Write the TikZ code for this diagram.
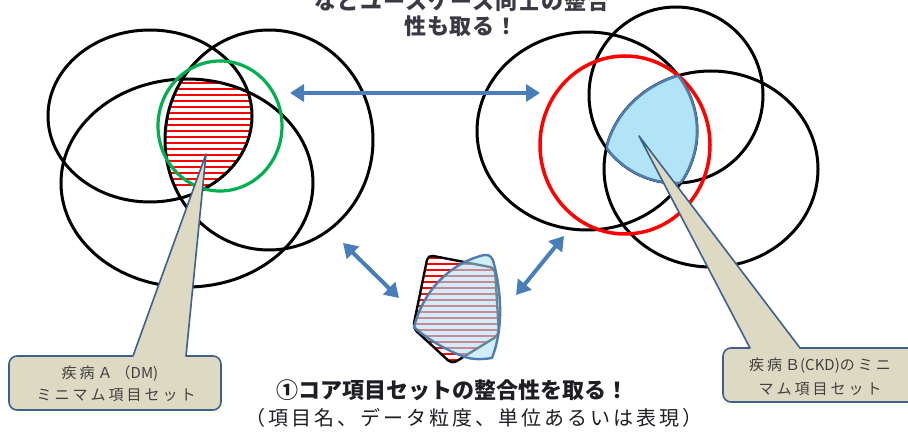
\documentclass[tikz,border=0pt]{standalone}
\usepackage{fontspec}
\newfontfamily\jp{Noto Sans CJK JP}
\newfontfamily\jpsp{Noto Sans CJK JP}[LetterSpace=20]
\newfontfamily\jpw{Noto Sans CJK JP}[LetterSpace=15]
\newfontfamily\jpt{Noto Sans CJK JP}[LetterSpace=4]
\usetikzlibrary{arrows.meta}
\definecolor{arrowblue}{HTML}{4A7EBB}
\definecolor{calloutfill}{HTML}{DDD9C3}
\definecolor{calloutborder}{HTML}{3F608D}
\definecolor{lightblue}{HTML}{B0E4F6}
\definecolor{regionblue}{HTML}{4F7DB0}
\definecolor{greencirc}{HTML}{00B050}
\definecolor{labelgray}{HTML}{404040}
\definecolor{topgray}{HTML}{3A3A44}
\definecolor{darktext}{HTML}{1E1E24}
\begin{document}
\begin{tikzpicture}[x=1pt,y=-1pt,
  ell/.style={draw=black, line width=3pt},
  hline/.style={draw=red, line width=1.1pt},
  callout/.style={fill=calloutfill, draw=calloutborder, line width=1.6pt, line join=round},
  lbl/.style={text=labelgray, font=\jpsp\fontsize{15}{18}\selectfont, inner sep=0pt},
  dbl/.style={draw=arrowblue, line width=4pt, {Triangle[length=14pt,width=17pt]}-{Triangle[length=14pt,width=17pt]}}]
\useasboundingbox (0,0) rectangle (908,435);

% ---------- left group ----------
\begin{scope}
  \clip (150,116) ellipse [x radius=102, y radius=86];
  \clip (269,140) ellipse [x radius=104, y radius=110];
  \clip (187,183) ellipse [x radius=126, y radius=104];
  \foreach \yy in {83,89,...,185} { \draw[hline] (150,\yy) -- (260,\yy); }
\end{scope}
\draw[ell] (150,116) ellipse [x radius=102, y radius=86];
\draw[ell] (269,140) ellipse [x radius=104, y radius=110];
\draw[ell] (187,183) ellipse [x radius=126, y radius=104];
\draw[draw=greencirc, line width=3.2pt] (220,126) ellipse [x radius=62, y radius=65];

% ---------- right group ----------
\draw[ell] (587,131) ellipse [x radius=110, y radius=99];
\draw[ell] (676,95) ellipse [x radius=87, y radius=88];
\draw[ell] (711,169) ellipse [x radius=107, y radius=98];
\draw[draw=red, line width=3.5pt] (625,145) ellipse [x radius=85, y radius=89];
\begin{scope}
  \clip (587,131) ellipse [x radius=110, y radius=99];
  \clip (676,95) ellipse [x radius=87, y radius=88];
  \fill[lightblue] (711,169) ellipse [x radius=107, y radius=98];
\end{scope}
\begin{scope}
  \clip (676,95) ellipse [x radius=87, y radius=88];
  \clip (711,169) ellipse [x radius=107, y radius=98];
  \draw[regionblue, line width=2.6pt] (587,131) ellipse [x radius=110, y radius=99];
\end{scope}
\begin{scope}
  \clip (587,131) ellipse [x radius=110, y radius=99];
  \clip (711,169) ellipse [x radius=107, y radius=98];
  \draw[regionblue, line width=2.6pt] (676,95) ellipse [x radius=87, y radius=88];
\end{scope}
\begin{scope}
  \clip (587,131) ellipse [x radius=110, y radius=99];
  \clip (676,95) ellipse [x radius=87, y radius=88];
  \draw[regionblue, line width=2.6pt] (711,169) ellipse [x radius=107, y radius=98];
\end{scope}

% ---------- middle core shape ----------
\fill[white] (428,255) -- (495,268) -- (499,335) -- (452,364) -- (413,328) -- cycle;
\begin{scope}
  \clip[rounded corners=5pt] (428,255) -- (495,268) -- (499,335) -- (452,364) -- (413,328) -- cycle;
  \foreach \yy in {258,264,...,362} { \draw[hline] (405,\yy) -- (505,\yy); }
\end{scope}
\draw[black, line width=2.4pt, rounded corners=5pt] (428,255) -- (495,268) -- (499,335) -- (452,364) -- (413,328) -- cycle;
\draw[draw=regionblue, line width=2.4pt, fill=lightblue, fill opacity=0.6]
  (414,327) .. controls (425,285) and (455,262) .. (484,255)
  .. controls (490,254) and (493,258) .. (494,264)
  .. controls (502,295) and (503,330) .. (492,358)
  .. controls (480,360) and (470,359) .. (465,357)
  .. controls (450,352) and (428,340) .. (414,327) -- cycle;

% ---------- arrows ----------
\coordinate (hL) at (290,93);
\coordinate (hR) at (540,93);
\coordinate (dL1) at (343,243);
\coordinate (dL2) at (399,298);
\coordinate (dR1) at (564,236);
\coordinate (dR2) at (516,295);
\draw[dbl] (hL) -- (hR);
\draw[dbl] (dL1) -- (dL2);
\draw[dbl] (dR1) -- (dR2);

% ---------- callouts ----------
\coordinate (tipA) at (206,154);
\coordinate (tipB) at (639,136);
\path[callout] (9,402) -- (9,364) arc[start angle=180,end angle=270,radius=8]
  -- (133,356) -- (tipA) -- (186,356) -- (213,356)
  arc[start angle=270,end angle=360,radius=8] -- (221,402)
  arc[start angle=0,end angle=90,radius=8] -- (17,410)
  arc[start angle=90,end angle=180,radius=8] -- cycle;
\path[callout] (723,394) -- (723,356) arc[start angle=180,end angle=270,radius=8]
  -- (750,348) -- (tipB) -- (800,348) -- (916,348) -- (916,402) -- (731,402)
  arc[start angle=90,end angle=180,radius=8] -- cycle;

\node[lbl] (a1) at (110,374) {疾病Ａ（{\jp DM)}};
\node[lbl] (a2) at (116,395) {ミニマム項目セット};
\node[lbl] (b1) at (820,366) {疾病Ｂ{\jp (CKD)}のミニ};
\node[lbl] (b2) at (820,389) {マム項目セット};

% ---------- texts ----------
\node[font=\jpt\bfseries\fontsize{22}{26}\selectfont, text=topgray, inner sep=0pt] (t1) at (462,1) {などユースケース同士の整合};
\node[font=\jpt\bfseries\fontsize{22}{26}\selectfont, text=topgray, inner sep=0pt] (t2) at (461,26) {性も取る！};
\node[font=\jp\bfseries\fontsize{22}{26}\selectfont, text=darktext, inner sep=0pt] (core) at (452,390) {①コア項目セットの整合性を取る！};
\node[font=\jpw\fontsize{20}{24}\selectfont, text=darktext, inner sep=0pt] (detail) at (474,418) {（項目名、データ粒度、単位あるいは表現）};
\end{tikzpicture}
\end{document}
